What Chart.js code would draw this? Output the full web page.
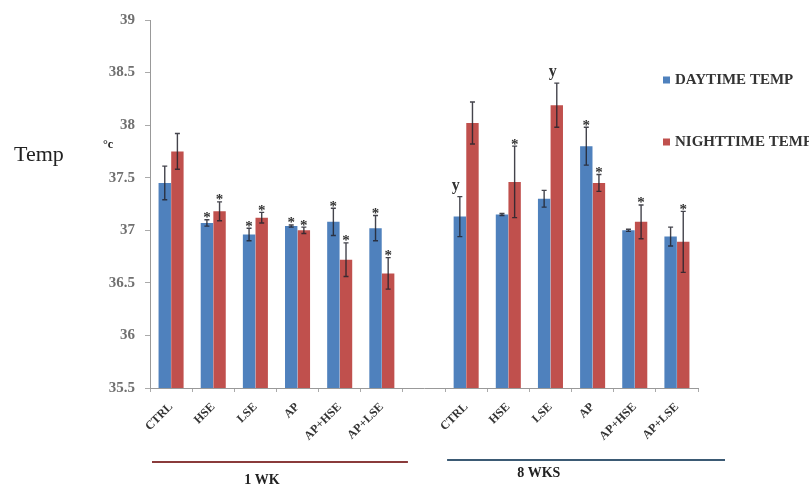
<!DOCTYPE html>
<html>
<head>
<meta charset="utf-8">
<script src="https://cdn.jsdelivr.net/npm/chart.js@4"></script>
<style>
  html, body { margin: 0; padding: 0; background: #fff; }
  #wrap { width: 809px; height: 490px; }
</style>
</head>
<body>
<div id="wrap"><canvas id="myChart" width="809" height="490"></canvas></div>
<script>
// Categories (empty slot separates the two time points)
const categories = ['CTRL', 'HSE', 'LSE', 'AP', 'AP+HSE', 'AP+LSE', '', 'CTRL', 'HSE', 'LSE', 'AP', 'AP+HSE', 'AP+LSE'];

// Series values
const dayTemp   = [37.45, 37.07, 36.96, 37.04, 37.08, 37.02, null, 37.13, 37.15, 37.30, 37.80, 37.00, 36.94];
const dayErr    = [0.16, 0.03, 0.06, 0.01, 0.13, 0.12, null, 0.19, 0.01, 0.08, 0.18, 0.01, 0.09];
const nightTemp = [37.75, 37.18, 37.12, 37.00, 36.72, 36.59, null, 38.02, 37.46, 38.19, 37.45, 37.08, 36.89];
const nightErr  = [0.17, 0.09, 0.05, 0.03, 0.16, 0.15, null, 0.20, 0.34, 0.21, 0.08, 0.16, 0.29];

// Significance marks above each bar
const dayMarks   = ['', '*', '*', '*', '*', '*', '', 'y', '', '', '*', '', ''];
const nightMarks = ['', '*', '*', '*', '*', '*', '', '', '*', 'y', '*', '*', '*'];

// Tick labels
const yTicks = [35.5, 36, 36.5, 37, 37.5, 38, 38.5, 39];

// Time point groups (category index ranges)
const groupLabels = ['1 WK', '8 WKS'];
const groupStart  = [0, 7];
const groupEnd    = [5, 12];

const serif = '"Liberation Serif", "DejaVu Serif", serif';

// Error bars, significance marks, group lines, legend and axis titles
const extras = {
    id: 'extras',
    afterDatasetsDraw(chart) {
        const ctx = chart.ctx;
        const x = chart.scales.x;
        const y = chart.scales.y;
        const errs = [dayErr, nightErr];
        const marks = [dayMarks, nightMarks];

        chart.data.datasets.forEach((ds, di) => {
            const meta = chart.getDatasetMeta(di);
            meta.data.forEach((bar, i) => {
                const v = ds.data[i];
                if (v == null) return;
                const e = errs[di][i];
                const top = y.getPixelForValue(v + e);
                const bot = y.getPixelForValue(v - e);
                ctx.save();
                ctx.strokeStyle = 'rgba(35,35,45,0.85)';
                ctx.lineWidth = 1.4;
                ctx.beginPath();
                ctx.moveTo(bar.x, top); ctx.lineTo(bar.x, bot);
                ctx.moveTo(bar.x - 2.5, top); ctx.lineTo(bar.x + 2.5, top);
                ctx.moveTo(bar.x - 2.5, bot); ctx.lineTo(bar.x + 2.5, bot);
                ctx.stroke();

                const m = marks[di][i];
                if (m) {
                    ctx.fillStyle = '#333';
                    ctx.textAlign = 'center';
                    ctx.textBaseline = 'bottom';
                    if (m === 'y') {
                        ctx.font = 'bold 16px ' + serif;
                        ctx.fillText(m, bar.x - 4, top - 3);
                    } else {
                        ctx.font = 'bold 15px ' + serif;
                        ctx.fillText(m, bar.x, top + 6);
                    }
                }
                ctx.restore();
            });
        });

        // group lines under the x labels
        const step = x.getPixelForValue(1) - x.getPixelForValue(0);
        const colors = ['#8a3b3b', '#3b5a74'];
        groupLabels.forEach((g, gi) => {
            const x0 = x.getPixelForValue(groupStart[gi]) - step / 2 + 2;
            let x1 = x.getPixelForValue(groupEnd[gi]) + step / 2 + 5;
            if (gi === 1) x1 += 22;
            const ly = gi === 0 ? 462 : 460;
            ctx.save();
            ctx.strokeStyle = colors[gi];
            ctx.lineWidth = 2;
            ctx.beginPath();
            ctx.moveTo(x0, ly); ctx.lineTo(x1, ly);
            ctx.stroke();
            ctx.fillStyle = '#222';
            ctx.font = 'bold 14px ' + serif;
            ctx.textAlign = 'center';
            ctx.textBaseline = 'middle';
            const tx = gi === 0 ? x0 + (x1 - x0) * 0.43 : x0 + (x1 - x0) * 0.33;
            ctx.fillText(g, tx, ly + (gi === 0 ? 18 : 13));
            ctx.restore();
        });

        // legend
        ctx.save();
        ctx.font = 'bold 15px ' + serif;
        ctx.textBaseline = 'middle';
        ctx.textAlign = 'left';
        const legY = [80, 142];
        chart.data.datasets.forEach((ds, di) => {
            ctx.fillStyle = ds.backgroundColor;
            ctx.fillRect(663, legY[di] - 3.5, 7, 7);
            ctx.fillStyle = '#333';
            ctx.fillText(ds.label, 675, legY[di]);
        });

        // axis title
        ctx.fillStyle = '#222';
        ctx.textBaseline = 'alphabetic';
        ctx.font = '22px ' + serif;
        ctx.fillText('Temp', 14, 161);
        ctx.font = 'bold 12px ' + serif;
        ctx.fillText('°c', 103, 148);
        ctx.restore();
    }
};

const myChart = document.getElementById('myChart');

new Chart(myChart, {
    type: 'bar',
    data: {
        labels: categories,
        datasets: [{
            label: 'DAYTIME TEMP',
            data: dayTemp,
            backgroundColor: '#4f81bd'
        }, {
            label: 'NIGHTTIME TEMP',
            data: nightTemp,
            backgroundColor: '#c0504d'
        }]
    },
    options: {
        responsive: false,
        animation: false,
        layout: { padding: { top: 20, right: 111, left: 0, bottom: 0 } },
        datasets: {
            bar: { categoryPercentage: 0.6, barPercentage: 0.98 }
        },
        scales: {
            x: {
                afterFit(scale) { scale.height = 102; },
                grid: {
                    drawOnChartArea: false,
                    tickLength: 4,
                    color: '#aaa'
                },
                border: { color: '#999' },
                ticks: {
                    minRotation: 45,
                    maxRotation: 45,
                    autoSkip: false,
                    color: '#333',
                    padding: 8,
                    font: { family: serif, size: 12, weight: 'bold' }
                }
            },
            y: {
                min: 35.5,
                max: 39,
                afterFit(scale) { scale.width = 150; },
                afterBuildTicks(scale) { scale.ticks = yTicks.map(v => ({ value: v })); },
                grid: {
                    drawOnChartArea: false,
                    tickLength: 5,
                    color: '#aaa'
                },
                border: { color: '#999' },
                ticks: {
                    color: '#707070',
                    padding: 10,
                    font: { family: serif, size: 15, weight: 'bold' },
                    callback: v => String(v)
                }
            }
        },
        plugins: {
            legend: { display: false },
            tooltip: { enabled: false }
        }
    },
    plugins: [extras]
});
</script>
</body>
</html>
